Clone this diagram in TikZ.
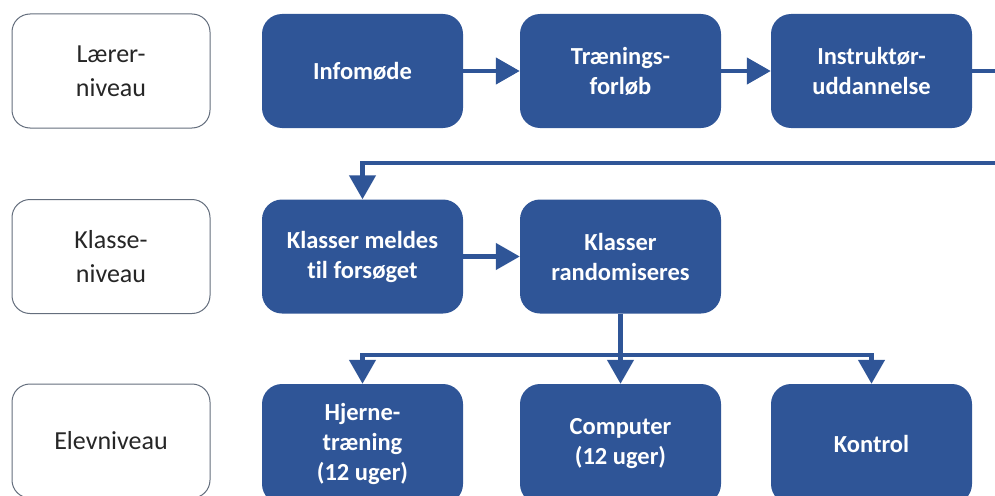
\documentclass[tikz,border=0pt]{standalone}
\usepackage{fontspec}
\setmainfont{Carlito}[Ligatures=NoCommon]
\usetikzlibrary{arrows.meta}
\definecolor{pptblue}{RGB}{47,85,151}
\definecolor{rimgray}{RGB}{100,110,125}
\begin{document}
\begin{tikzpicture}[x=1pt, y=-1pt,
	level/.style={draw=rimgray, line width=1pt, fill=white, rounded corners=18pt,
		minimum width=198pt, minimum height=114pt, align=center, text=black!85,
		font=\fontsize{26}{34}\selectfont},
	stage/.style={fill=pptblue, rounded corners=20pt, minimum width=201pt,
		minimum height=114pt, align=center, text=white,
		font=\bfseries\fontsize{24.5}{30}\selectfont},
	link/.style={draw=pptblue, line width=4.5pt},
	flow/.style={link, -{Triangle[length=24pt, width=26pt]}}]
	\clip (0,0) rectangle (995,495);
	
	\node[level] (teacher) at (111,71){Lærer-\\niveau};
	\node[level] (class) at (111,256.5){Klasse-\\niveau};
	\node[level] (pupil) at (111,441){Elevniveau};
	
	\node[stage] (info) at (362.5,71){Infomøde};
	\node[stage] (train) at (620.5,71){Trænings-\\forløb};
	\node[stage] (instr) at (871.5,71){Instruktør-\\uddannelse};
	
	\node[stage] (enrol) at (362.5,256.5){Klasser meldes\\til forsøget};
	\node[stage] (rand) at (620.5,256.5){Klasser\\randomiseres};
	
	\node[stage, minimum height=120pt] (brain) at (362.5,444){Hjerne-\\træning\\(12 uger)};
	\node[stage, minimum height=120pt] (comp) at (620.5,444){Computer\\(12 uger)};
	\node[stage, minimum height=120pt] (ctrl) at (871.5,444){Kontrol};
	
	\coordinate (rimtop) at (1000,71);
	\coordinate (rimlow) at (1000,163);
	\coordinate (split) at (620.5,355);
	
	\draw[flow] (info) -- (train);
	\draw[flow] (train) -- (instr);
	\draw[link] (instr.east) -- (rimtop);
	\draw[flow] (rimlow) -| (enrol.north);
	
	\draw[flow] (enrol) -- (rand);
	
	\draw[flow] (rand.south) -- (split) -| (brain.north);
	\draw[flow] (split) -- (comp.north);
	\draw[flow] (split) -| (ctrl.north);
\end{tikzpicture}
\end{document}
